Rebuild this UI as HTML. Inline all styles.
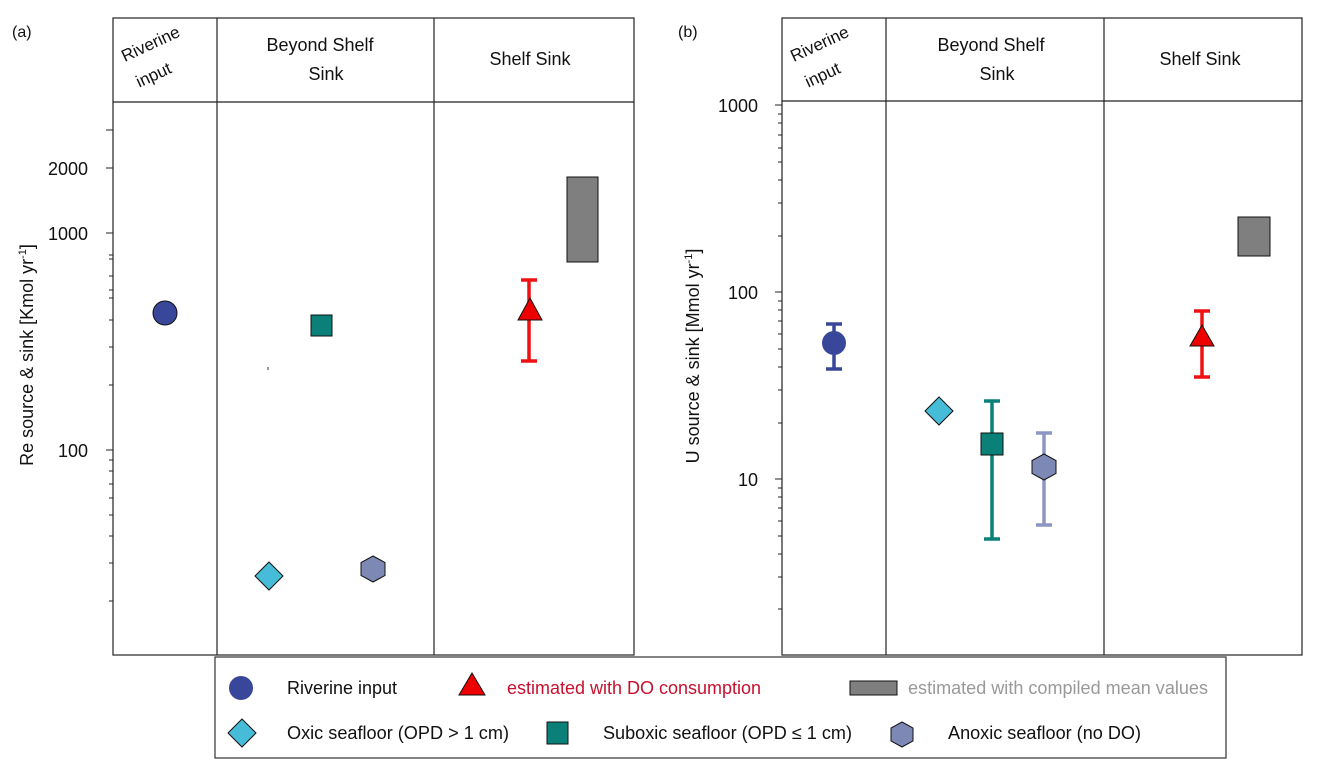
<!DOCTYPE html>
<html><head><meta charset="utf-8"><style>
body{margin:0;background:#fff;}
svg text{font-family:"Liberation Sans",sans-serif;fill:#111;}
</style></head><body>
<svg width="1317" height="771" viewBox="0 0 1317 771" xmlns="http://www.w3.org/2000/svg">
<!-- Panel a -->
<text x="12" y="37" font-size="16">(a)</text>
<rect x="113" y="18" width="521" height="637" fill="none" stroke="#222" stroke-width="1.2"/>
<line x1="113" y1="102" x2="634" y2="102" stroke="#222" stroke-width="1.2"/>
<line x1="217" y1="18" x2="217" y2="655" stroke="#222" stroke-width="1.2"/>
<line x1="434" y1="18" x2="434" y2="655" stroke="#222" stroke-width="1.2"/>
<text x="153" y="49" font-size="17" text-anchor="middle" transform="rotate(-25 153 49)">Riverine</text>
<text x="156" y="80" font-size="17" text-anchor="middle" transform="rotate(-25 156 80)">input</text>
<text x="320" y="51" font-size="18" text-anchor="middle">Beyond Shelf</text>
<text x="326" y="80" font-size="18" text-anchor="middle">Sink</text>
<text x="530" y="65" font-size="18" text-anchor="middle">Shelf Sink</text>
<g stroke="#222" stroke-width="1">
<line x1="106" y1="130" x2="113" y2="130"/>
<line x1="106" y1="168" x2="113" y2="168"/>
<line x1="106" y1="233" x2="113" y2="233"/>
<line x1="106" y1="450" x2="113" y2="450"/>
<line x1="109" y1="255" x2="113" y2="255"/><line x1="109" y1="259" x2="113" y2="259"/>
<line x1="109" y1="276" x2="113" y2="276"/><line x1="109" y1="290" x2="113" y2="290"/>
<line x1="109" y1="298" x2="113" y2="298"/><line x1="109" y1="320" x2="113" y2="320"/>
<line x1="109" y1="347" x2="113" y2="347"/><line x1="109" y1="385" x2="113" y2="385"/>
<line x1="109" y1="460" x2="113" y2="460"/><line x1="109" y1="471" x2="113" y2="471"/>
<line x1="109" y1="484" x2="113" y2="484"/><line x1="109" y1="498" x2="113" y2="498"/>
<line x1="109" y1="515" x2="113" y2="515"/><line x1="109" y1="536" x2="113" y2="536"/>
<line x1="109" y1="563" x2="113" y2="563"/><line x1="109" y1="601" x2="113" y2="601"/>
</g>
<text x="88" y="175" font-size="18" text-anchor="end">2000</text>
<text x="88" y="240" font-size="18" text-anchor="end">1000</text>
<text x="88" y="457" font-size="18" text-anchor="end">100</text>
<text x="0" y="0" font-size="18" text-anchor="middle" transform="translate(33 355) rotate(-90)">Re source &amp; sink [Kmol yr<tspan font-size="11" dy="-7">-1</tspan><tspan dy="7">]</tspan></text>
<circle cx="165" cy="313" r="12" fill="#39479a" stroke="#111" stroke-width="1"/>
<rect x="311" y="315" width="21" height="21" fill="#0b8078" stroke="#111" stroke-width="1"/>
<line x1="268" y1="367" x2="268" y2="370" stroke="#333"/>
<polygon points="269,562 283,576 269,590 255,576" fill="#46bcd8" stroke="#111" stroke-width="1"/>
<polygon points="373,556 385,562.5 385,575.5 373,582 361,575.5 361,562.5" fill="#7d89b4" stroke="#111" stroke-width="1"/>
<g stroke="#ee1111" stroke-width="3.5"><line x1="529" y1="280" x2="529" y2="361"/><line x1="521" y1="280" x2="537" y2="280"/><line x1="521" y1="361" x2="537" y2="361"/></g>
<polygon points="530,298 542,320 518,320" fill="#ee0000" stroke="#111" stroke-width="1"/>
<rect x="567" y="177" width="31" height="85" fill="#7f7f7f" stroke="#111" stroke-width="1"/>

<!-- Panel b -->
<text x="678" y="37" font-size="16">(b)</text>
<rect x="782" y="18" width="520" height="637" fill="none" stroke="#222" stroke-width="1.2"/>
<line x1="782" y1="101" x2="1302" y2="101" stroke="#222" stroke-width="1.2"/>
<line x1="886" y1="18" x2="886" y2="655" stroke="#222" stroke-width="1.2"/>
<line x1="1104" y1="18" x2="1104" y2="655" stroke="#222" stroke-width="1.2"/>
<text x="822" y="49" font-size="17" text-anchor="middle" transform="rotate(-25 822 49)">Riverine</text>
<text x="825" y="80" font-size="17" text-anchor="middle" transform="rotate(-25 825 80)">input</text>
<text x="991" y="51" font-size="18" text-anchor="middle">Beyond Shelf</text>
<text x="997" y="80" font-size="18" text-anchor="middle">Sink</text>
<text x="1200" y="65" font-size="18" text-anchor="middle">Shelf Sink</text>
<g stroke="#222" stroke-width="1">
<line x1="775" y1="105" x2="782" y2="105"/><line x1="775" y1="292" x2="782" y2="292"/><line x1="775" y1="479" x2="782" y2="479"/>
<line x1="778" y1="114" x2="782" y2="114"/><line x1="778" y1="123" x2="782" y2="123"/><line x1="778" y1="135" x2="782" y2="135"/><line x1="778" y1="148" x2="782" y2="148"/><line x1="778" y1="162" x2="782" y2="162"/><line x1="778" y1="180" x2="782" y2="180"/><line x1="778" y1="203" x2="782" y2="203"/><line x1="778" y1="236" x2="782" y2="236"/>
<line x1="778" y1="301" x2="782" y2="301"/><line x1="778" y1="310" x2="782" y2="310"/><line x1="778" y1="321" x2="782" y2="321"/><line x1="778" y1="334" x2="782" y2="334"/><line x1="778" y1="349" x2="782" y2="349"/><line x1="778" y1="367" x2="782" y2="367"/><line x1="778" y1="390" x2="782" y2="390"/><line x1="778" y1="423" x2="782" y2="423"/>
<line x1="778" y1="488" x2="782" y2="488"/><line x1="778" y1="497" x2="782" y2="497"/><line x1="778" y1="508" x2="782" y2="508"/><line x1="778" y1="521" x2="782" y2="521"/><line x1="778" y1="536" x2="782" y2="536"/><line x1="778" y1="554" x2="782" y2="554"/><line x1="778" y1="577" x2="782" y2="577"/><line x1="778" y1="609" x2="782" y2="609"/>
</g>
<text x="758" y="112" font-size="18" text-anchor="end">1000</text>
<text x="758" y="299" font-size="18" text-anchor="end">100</text>
<text x="758" y="486" font-size="18" text-anchor="end">10</text>
<text x="0" y="0" font-size="18" text-anchor="middle" transform="translate(699 356) rotate(-90)">U source &amp; sink [Mmol yr<tspan font-size="11" dy="-7">-1</tspan><tspan dy="7">]</tspan></text>
<g stroke="#39479a" stroke-width="3.5"><line x1="834" y1="324" x2="834" y2="369"/><line x1="826" y1="324" x2="842" y2="324"/><line x1="826" y1="369" x2="842" y2="369"/></g>
<circle cx="834" cy="343" r="12" fill="#39479a"/>
<polygon points="939,397 953,411 939,425 925,411" fill="#46bcd8" stroke="#111" stroke-width="1"/>
<g stroke="#0b8078" stroke-width="3.5"><line x1="992" y1="401" x2="992" y2="539"/><line x1="984" y1="401" x2="1000" y2="401"/><line x1="984" y1="539" x2="1000" y2="539"/></g>
<rect x="981" y="433" width="22" height="22" fill="#0b8078" stroke="#111" stroke-width="1"/>
<g stroke="#8b97c2" stroke-width="3.5"><line x1="1044" y1="433" x2="1044" y2="525"/><line x1="1036" y1="433" x2="1052" y2="433"/><line x1="1036" y1="525" x2="1052" y2="525"/></g>
<polygon points="1044,454 1056,460.5 1056,473.5 1044,480 1032,473.5 1032,460.5" fill="#7d89b4" stroke="#111" stroke-width="1"/>
<g stroke="#ee1111" stroke-width="3.5"><line x1="1202" y1="311" x2="1202" y2="377"/><line x1="1194" y1="311" x2="1210" y2="311"/><line x1="1194" y1="377" x2="1210" y2="377"/></g>
<polygon points="1202,325 1214,346 1190,346" fill="#ee0000" stroke="#111" stroke-width="1"/>
<rect x="1238" y="217" width="32" height="39" fill="#7f7f7f" stroke="#111" stroke-width="1"/>

<!-- Legend -->
<rect x="215" y="657" width="1011" height="101" fill="#fff" stroke="#333" stroke-width="1.2"/>
<circle cx="241" cy="688" r="12" fill="#39479a"/>
<text x="287" y="694" font-size="18" textLength="110" lengthAdjust="spacingAndGlyphs">Riverine input</text>
<polygon points="472,673 485,695 459,695" fill="#ee0000" stroke="#111" stroke-width="1"/>
<text x="507" y="694" font-size="18" textLength="254" lengthAdjust="spacingAndGlyphs" style="fill:#c8102e">estimated with DO consumption</text>
<rect x="850" y="681" width="47" height="14" fill="#7f7f7f" stroke="#111" stroke-width="1"/>
<text x="908" y="694" font-size="18" textLength="300" lengthAdjust="spacingAndGlyphs" style="fill:#999">estimated with compiled mean values</text>
<polygon points="242,719 256,733 242,747 228,733" fill="#46bcd8" stroke="#111" stroke-width="1"/>
<text x="287" y="739" font-size="18" textLength="222" lengthAdjust="spacingAndGlyphs">Oxic seafloor (OPD &gt; 1 cm)</text>
<rect x="547" y="722" width="21" height="22" fill="#0b8078" stroke="#111" stroke-width="1"/>
<text x="603" y="739" font-size="18" textLength="249" lengthAdjust="spacingAndGlyphs">Suboxic seafloor (OPD ≤ 1 cm)</text>
<polygon points="902,722 913,728 913,741 902,747 891,741 891,728" fill="#7d89b4" stroke="#111" stroke-width="1"/>
<text x="948" y="739" font-size="18" textLength="193" lengthAdjust="spacingAndGlyphs">Anoxic seafloor (no DO)</text>
</svg>
</body></html>
